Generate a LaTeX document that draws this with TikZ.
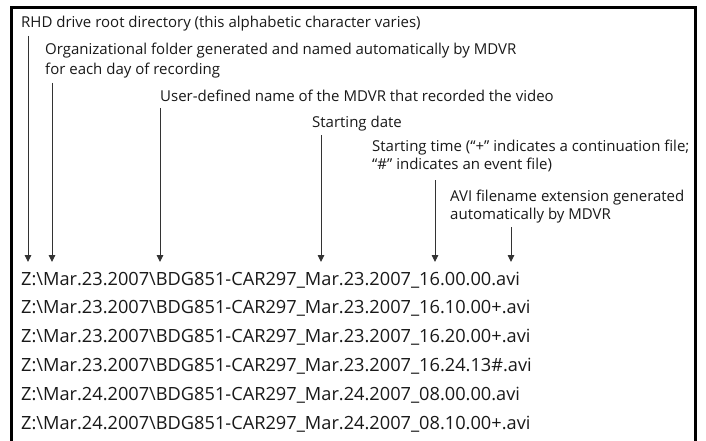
\documentclass[tikz,border=0pt]{standalone}
\usepackage{fontspec}
\setmainfont{Open Sans}
\usetikzlibrary{arrows.meta}
\begin{document}
\begin{tikzpicture}[x=1pt,y=-1pt,
  note/.style={anchor=base west,inner sep=0pt,font=\fontsize{15}{18}\selectfont,text=black!90},
  fname/.style={anchor=base west,inner sep=0pt,font=\fontsize{18.2}{20}\selectfont,text=black!90},
  pointer/.style={draw=black!80,line width=0.9pt,-{Triangle[width=6.5pt,length=7pt]}},
  frame/.style={draw=black,line width=2.2pt}]
\useasboundingbox (0,0) rectangle (706,441);
\fill[white] (0,0) rectangle (706,441);
% open frame: left, top and right sides only
\draw[frame] (11.5,441) -- (11.5,7.5) -- (695.5,7.5) -- (695.5,441);

% explanatory labels
\node[note] (lroot) at (21,28) {RHD drive root directory (this alphabetic character varies)};
\node[note] (lfold) at (45,55) {Organizational folder generated and named automatically by MDVR};
\node[note] (lfold2) at (45,75) {for each day of recording};
\node[note] (lname) at (160,102) {User-defined name of the MDVR that recorded the video};
\node[note] (ldate) at (312,128) {Starting date};
\node[note] (ltime) at (372,151) {Starting time (“+” indicates a continuation file;};
\node[note] (ltime2) at (372,169) {“\#” indicates an event file)};
\node[note] (lext) at (450,201) {AVI filename extension generated};
\node[note] (lext2) at (450,219) {automatically by MDVR};

% file names
\node[fname] (r1) at (21,285.0) {Z:\textbackslash Mar.23.2007\textbackslash BDG851-CAR297\_Mar.23.2007\_16.00.00.avi};
\node[fname] (r2) at (21,313.9) {Z:\textbackslash Mar.23.2007\textbackslash BDG851-CAR297\_Mar.23.2007\_16.10.00+.avi};
\node[fname] (r3) at (21,342.8) {Z:\textbackslash Mar.23.2007\textbackslash BDG851-CAR297\_Mar.23.2007\_16.20.00+.avi};
\node[fname] (r4) at (21,371.7) {Z:\textbackslash Mar.23.2007\textbackslash BDG851-CAR297\_Mar.23.2007\_16.24.13\#.avi};
\node[fname] (r5) at (21,400.6) {Z:\textbackslash Mar.24.2007\textbackslash BDG851-CAR297\_Mar.24.2007\_08.00.00.avi};
\node[fname] (r6) at (21,429.5) {Z:\textbackslash Mar.24.2007\textbackslash BDG851-CAR297\_Mar.24.2007\_08.10.00+.avi};

% pointer origins below each label
\coordinate (proot) at (28,36);
\coordinate (pfold) at (52,83);
\coordinate (pname) at (160,108);
\coordinate (pdate) at (321,135);
\coordinate (ptime) at (435,180);
\coordinate (pext) at (511,227);
\coordinate (tipline) at (0,262);

\foreach \p in {proot,pfold,pname,pdate,ptime,pext}
  \draw[pointer] (\p) -- (\p |- tipline);
\end{tikzpicture}
\end{document}
